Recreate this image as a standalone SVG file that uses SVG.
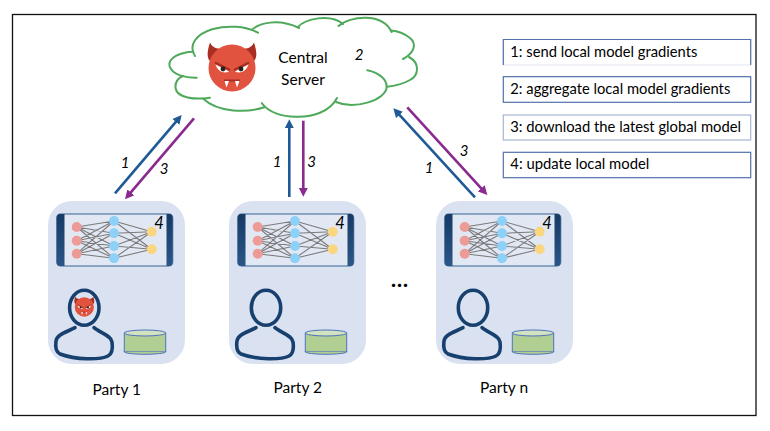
<svg xmlns="http://www.w3.org/2000/svg" width="770" height="431" viewBox="0 0 770 431">
<style>
text{font-family:"Lato","Liberation Sans",sans-serif;fill:#000}
.t{font-size:15px}
.c{font-size:15.5px;text-anchor:middle}
.p{font-size:15.5px;text-anchor:middle}
.i{font-size:15px;font-style:italic;text-anchor:middle}
.f{font-size:16.5px;font-style:italic;text-anchor:middle}
.cloud path{fill:none;stroke:#4ea95b;stroke-width:2;stroke-linecap:round}
.legend{fill:#fff;stroke:#5272ab;stroke-width:1.2}
.blue{stroke:#1f5a96;stroke-width:2.6;fill:none;marker-end:url(#ab)}
.purple{stroke:#8a2a8f;stroke-width:2.6;fill:none;marker-end:url(#ap)}
.edge{stroke:#7b7b7b;stroke-width:1.1;fill:none}
.pers{fill:none;stroke:#17406f;stroke-width:3.6;stroke-linecap:round}
</style>
<defs>
<marker id="ab" viewBox="0 -5 10 10" refX="3" refY="0" markerWidth="10" markerHeight="10" markerUnits="userSpaceOnUse" orient="auto"><path d="M0,-4.6 L9,0 L0,4.6 z" fill="#1f5a96"/></marker>
<marker id="ap" viewBox="0 -5 10 10" refX="3" refY="0" markerWidth="10" markerHeight="10" markerUnits="userSpaceOnUse" orient="auto"><path d="M0,-4.6 L9,0 L0,4.6 z" fill="#8a2a8f"/></marker>
<linearGradient id="end" x1="0" y1="0" x2="0" y2="1"><stop offset="0" stop-color="#173a66"/><stop offset="1" stop-color="#2a5687"/></linearGradient>
<g id="devil">
<path d="M-22,-25.5 C-25.5,-15 -25,-9 -21,-6 L-9,-19 C-16,-19 -20,-21 -22,-25.5 z" fill="#a92f22"/>
<path d="M22,-25.5 C25.5,-15 25,-9 21,-6 L9,-19 C16,-19 20,-21 22,-25.5 z" fill="#a92f22"/>
<circle r="23.5" fill="#e2533f"/>
<path d="M-17,-5.5 L-2,2 M17,-5.5 L2,2" stroke="#a92f22" stroke-width="2.4" fill="none"/>
<path d="M-16.5,-3.5 L-3,3.5 C-7,5.5 -14,4.5 -16.5,-3.5 z M16.5,-3.5 L3,3.5 C7,5.5 14,4.5 16.5,-3.5 z" fill="#fff"/>
<circle cx="-9" cy="1" r="2.4" fill="#222"/><circle cx="9" cy="1" r="2.4" fill="#222"/>
<path d="M-8,11.5 L8,11.5 L8,13.5 L-8,13.5 z" fill="#a92f22"/>
<path d="M-7.5,13 L-3,13 L-5.5,19.5 z M3,13 L7.5,13 L5,19.5 z" fill="#fff"/>
</g>
<g id="board">
<rect x="0" y="0" width="137" height="163" rx="24" fill="#dae2f1"/>
<rect x="8.7" y="13" width="116" height="52" rx="4" fill="#e2e8f3" stroke="#6f8fb5" stroke-width="1.4"/>
<path d="M16.5,13 L12,13 Q8.7,13 8.7,16.5 L8.7,61.5 Q8.7,65 12,65 L16.5,65 z" fill="url(#end)"/>
<path d="M118.5,13 L121.5,13 Q124.7,13 124.7,16.5 L124.7,61.5 Q124.7,65 121.5,65 L118.5,65 z" fill="url(#end)"/>
<path class="edge" d="M28.7,26L66,20M28.7,26L66,32.3M28.7,26L66,45M28.7,26L66,57.3M28.7,39.7L66,20M28.7,39.7L66,32.3M28.7,39.7L66,45M28.7,39.7L66,57.3M28.7,52.7L66,20M28.7,52.7L66,32.3M28.7,52.7L66,45M28.7,52.7L66,57.3M66,20L103.7,30.7M66,32.3L103.7,30.7M66,45L103.7,30.7M66,57.3L103.7,30.7M66,20L103.7,48.3M66,32.3L103.7,48.3M66,45L103.7,48.3M66,57.3L103.7,48.3"/>
<g fill="#ec9b96"><circle cx="28.7" cy="26" r="5"/><circle cx="28.7" cy="39.7" r="5"/><circle cx="28.7" cy="52.7" r="5"/></g>
<g fill="#8dd0f8"><circle cx="66" cy="20" r="5"/><circle cx="66" cy="32.3" r="5"/><circle cx="66" cy="45" r="5"/><circle cx="66" cy="57.3" r="5"/></g>
<g fill="#fbd681"><circle cx="103.7" cy="30.7" r="5"/><circle cx="103.7" cy="48.3" r="5"/></g>
<path class="pers" d="M27,126.7 C19,131 9,133 8,140 C7,147 8,151 12,153 C28,159 52,159 60,155 C64,153 65,148 64,141 C63,134 52,132 46,126.7"/>
<rect x="76.3" y="132" width="41.4" height="18.7" fill="#b1cf92" stroke="#4f72bd" stroke-width="1"/>
<path d="M76.3,150.7 A20.7,2.6 0 0 0 117.7,150.7" fill="#b1cf92" stroke="#4f72bd" stroke-width="1"/>
<ellipse cx="97" cy="132" rx="20.7" ry="3" fill="#d3e3c2" stroke="#4f72bd" stroke-width="1"/>
</g>
</defs>
<rect id="frame" x="12.5" y="14.5" width="743.5" height="401" fill="#fff" stroke="#111" stroke-width="1.3"/>
<g id="central-server">
<g class="cloud">
<path d="M196.7,77.7 C186,78 172,75 169.5,66 C168,58 180,52 193.3,51.7"/>
<path d="M195,56 C188,45 196,34 213,29 C228,25 245,26 258,32.7"/>
<path d="M251.7,30 C259,23 278,18 299,28"/>
<path d="M298,27 C305,19 330,13 343,24"/>
<path d="M338.5,26 C350,16 382,12 391.7,32"/>
<path d="M391,30.5 C398,31 405,34 410,38 C416,43 416,52 403,59"/>
<path d="M386.7,86.7 C395,86 403,84 410,80 C419,75 420,63 409,57"/>
<path d="M367.3,70.3 C380,73 387,80 386.7,87 C386,100 355,110 336,102"/>
<path d="M337,98 C330,112 312,117 297,116.7 C282,117 268,112 261.7,103"/>
<path d="M265,107 C248,113 218,113 203,98.5"/>
<path d="M210,97.7 C195,100 177,98 175.5,88 C175,82 178,78 183,76"/>
</g>
<use href="#devil" transform="translate(232,68)"/>
<text class="c" x="303" y="63">Central</text>
<text class="c" x="303" y="85">Server</text>
<text class="i" x="359" y="60">2</text>
</g>
<g id="connectors">
<path class="blue" d="M115,193.3 L177.8,119.6"/>
<path class="purple" d="M194,118.3 L128.9,194.7"/>
<path class="blue" d="M289.3,197 L289.3,125.3"/>
<path class="purple" d="M303.3,120.7 L303.3,190.7"/>
<path class="blue" d="M475,197.3 L397.4,112.7"/>
<path class="purple" d="M407.3,107.3 L483.3,190.6"/>
</g>
<g id="connector-labels">
<text class="i" x="125" y="168">1</text>
<text class="i" x="164" y="174">3</text>
<text class="i" x="277" y="167">1</text>
<text class="i" x="311.7" y="167">3</text>
<text class="i" x="429" y="173">1</text>
<text class="i" x="464" y="156">3</text>
</g>
<g id="party-1" transform="translate(48,201)">
<use href="#board"/>
<ellipse class="pers" cx="36.3" cy="106.7" rx="14.7" ry="17.5"/>
<use href="#devil" transform="translate(36.3,106) scale(.41)"/>
<text class="f" x="111" y="27.5">4</text>
<text class="p" x="68.7" y="193.5">Party 1</text>
</g>
<g id="party-2" transform="translate(229,201)">
<use href="#board"/>
<ellipse class="pers" cx="37" cy="106.7" rx="14.7" ry="17.5"/>
<text class="f" x="111" y="27.5">4</text>
<text class="p" x="68.7" y="192">Party 2</text>
</g>
<g id="party-n" transform="translate(436,201)">
<use href="#board"/>
<ellipse class="pers" cx="37" cy="106.7" rx="14.7" ry="17.5"/>
<text class="f" x="111" y="27.5">4</text>
<text class="p" x="68" y="192">Party n</text>
</g>
<text id="ellipsis" x="400" y="287" style="font-size:21px;font-weight:900;text-anchor:middle;letter-spacing:1px">...</text>
<g id="legend">
<g id="legend-1"><rect x="503.3" y="39.5" width="247.4" height="25.5" fill="#fff" stroke="#e6eaf3" stroke-width="1.2"/><path class="legend" style="fill:none" d="M503.3,65 V39.5 H750.7 V65"/><text class="t" x="510.3" y="56.7" textLength="187" lengthAdjust="spacingAndGlyphs">1: send local model gradients</text></g>
<g id="legend-2"><rect class="legend" x="503.3" y="76.7" width="247.4" height="25.6"/><text class="t" x="510.3" y="94.3" textLength="220" lengthAdjust="spacingAndGlyphs">2: aggregate local model gradients</text></g>
<g id="legend-3"><rect class="legend" style="stroke:#a7b6d3" x="503.3" y="115" width="247.4" height="25"/><text class="t" x="510.3" y="132.3" textLength="230.7" lengthAdjust="spacingAndGlyphs">3: download the latest global model</text></g>
<g id="legend-4"><rect class="legend" x="503.3" y="152.3" width="247.4" height="25.4"/><text class="t" x="510.3" y="169.3" textLength="139" lengthAdjust="spacingAndGlyphs">4: update local model</text></g>
</g>
</svg>
